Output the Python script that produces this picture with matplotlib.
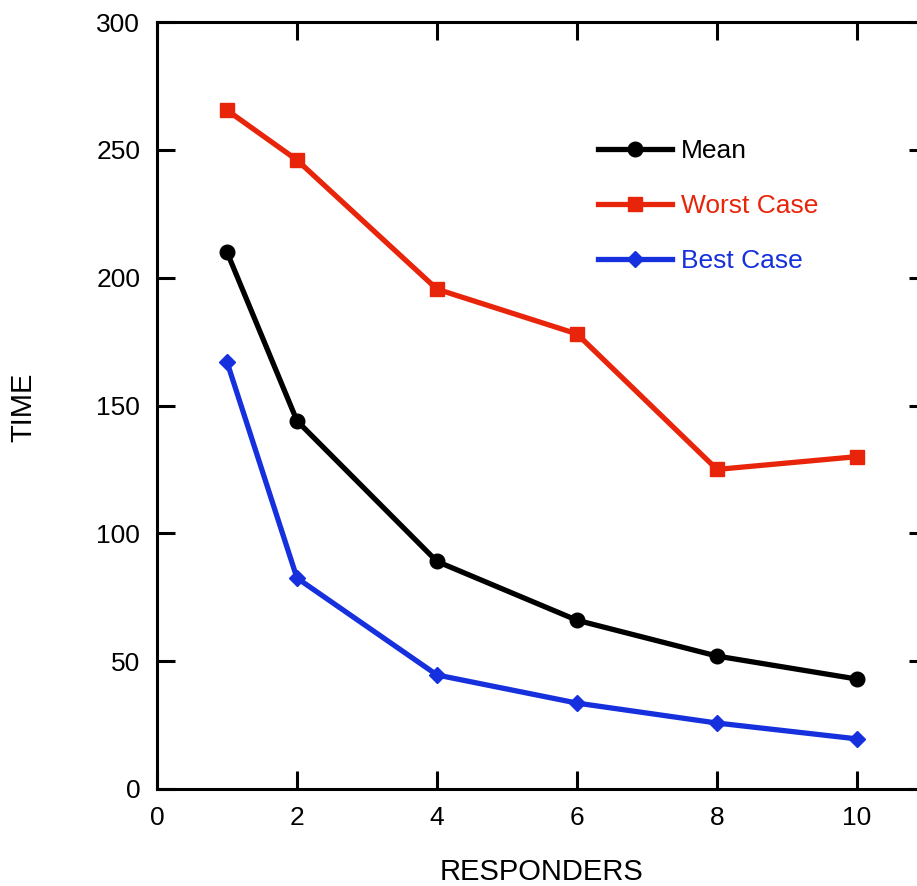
import matplotlib
matplotlib.use('Agg')
import matplotlib.pyplot as plt

# data
responders = [1, 2, 4, 6, 8, 10]
mean_time = [210, 144, 89, 66, 52, 43]
worst_time = [265.5, 246, 195.5, 178, 125, 130]
best_time = [167, 82.5, 44.6, 33.6, 25.8, 19.6]

x_ticks = [0, 2, 4, 6, 8, 10]
y_ticks = [0, 50, 100, 150, 200, 250, 300]

plt.rcParams['font.family'] = ['Liberation Sans', 'DejaVu Sans']

fig = plt.figure(figsize=(9.17, 8.86), dpi=100)
ax = fig.add_axes([157 / 917, 97 / 886, 770 / 917, 767 / 886])

ax.plot(responders, mean_time, color='black', lw=3.8, marker='o', ms=10.5, label='Mean')
ax.plot(responders, worst_time, color='#e8250b', lw=3.8, marker='s', ms=10.5, label='Worst Case')
ax.plot(responders, best_time, color='#1530dc', lw=3.8, marker='D', ms=8, label='Best Case')

ax.set_xlim(0, 11)
ax.set_ylim(0, 300)
ax.set_xticks(x_ticks)
ax.set_yticks(y_ticks)
ax.tick_params(direction='in', length=13, width=2.2, labelsize=19, pad=12,
               top=True, right=True)
for s in ax.spines.values():
    s.set_linewidth(2.2)

# axis titles placed in figure pixels
fig.text(542 / 917, 1 - 872 / 886, 'RESPONDERS', fontsize=21, ha='center', va='center')
fig.text(23 / 917, 1 - 407 / 886, 'TIME', fontsize=21, ha='center', va='center',
         rotation=90)

ax.legend(loc='upper left', bbox_to_anchor=(598 / 917, 1 - 139 / 886),
          bbox_transform=fig.transFigure, frameon=False, fontsize=19,
          handlelength=2.8, handletextpad=0.34, labelspacing=1.18,
          borderpad=0, borderaxespad=0, labelcolor='linecolor')

fig.savefig('out.png', dpi=100)
